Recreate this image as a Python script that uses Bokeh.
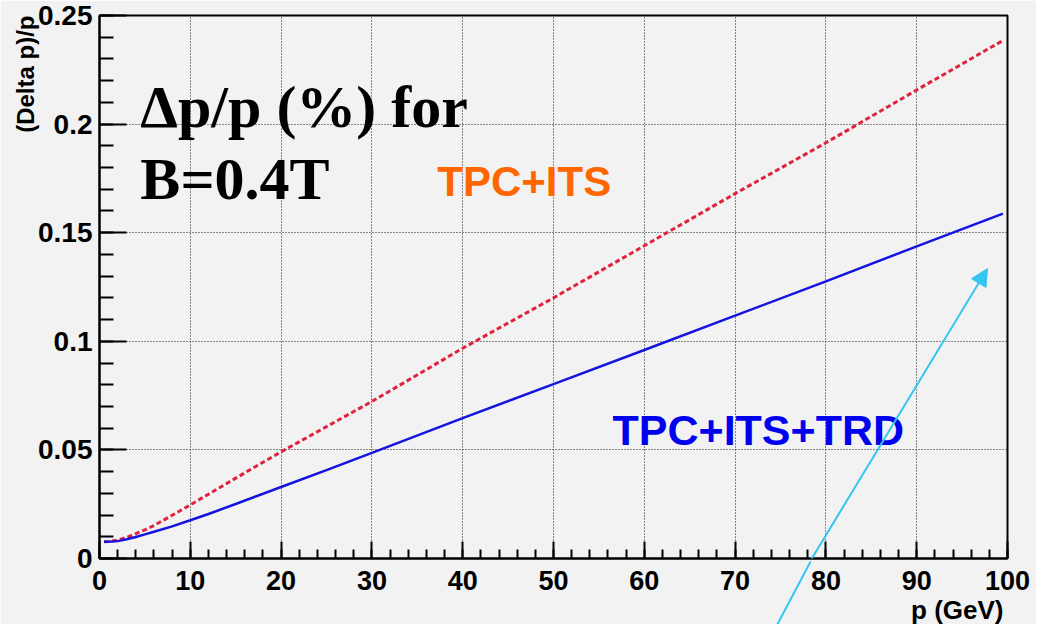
from bokeh.plotting import figure
from bokeh.layouts import column
from bokeh.models import (Label, Arrow, NormalHead, SingleIntervalTicker,
                          PrintfTickFormatter, Range1d, Title)
from bokeh.embed import file_html
from bokeh.resources import INLINE

# ---- data ----
p_gev = [0.5, 1, 2, 3, 4, 5, 6, 8, 10, 12, 15, 20, 25, 30, 40, 50, 60, 70, 80, 90, 99.5]
res_tpc_its = [0.0077, 0.0078, 0.0085, 0.0097, 0.0114, 0.0132, 0.0152, 0.0199, 0.0247,
               0.0296, 0.0370, 0.0491, 0.0607, 0.0723, 0.0968, 0.1200, 0.1440, 0.1680,
               0.1914, 0.2157, 0.2385]
res_tpc_its_trd = [0.0077, 0.0077, 0.0080, 0.0089, 0.0099, 0.0111, 0.0123, 0.0148, 0.0176,
                   0.0205, 0.0251, 0.0329, 0.0407, 0.0486, 0.0646, 0.0803, 0.0960, 0.1118,
                   0.1276, 0.1437, 0.1588]
x_title = "p (GeV)"
y_title = "(Delta p)/p"
arrow_start = (74.1, -0.03)
arrow_end = (97.8, 0.1335)

BG = "#f2f2f2"
SANS = "Liberation Sans"
SERIF = "Liberation Serif"
ARROW_C = "#33c6f2"

W, H = 1036, 624
B_LEFT, B_RIGHT, B_TOP, B_BOTTOM = 99, 29, 15, 63

p = figure(width=W, height=H, output_backend="svg", toolbar_location=None,
           x_range=Range1d(0, 100), y_range=Range1d(0, 0.25),
           min_border_left=B_LEFT, min_border_right=B_RIGHT, min_border_top=B_TOP,
           min_border_bottom=B_BOTTOM)
p.background_fill_color = BG
p.border_fill_color = BG
p.outline_line_color = "black"
p.outline_line_width = 2

p.xaxis.ticker = SingleIntervalTicker(interval=10, num_minor_ticks=5)
p.yaxis.ticker = SingleIntervalTicker(interval=0.05, num_minor_ticks=5)
p.yaxis.formatter = PrintfTickFormatter(format="%.3g")

for ax in (p.xaxis, p.yaxis):
    ax.axis_line_color = "black"
    ax.axis_line_width = 2
    ax.major_tick_line_color = "black"
    ax.major_tick_line_width = 2
    ax.minor_tick_line_color = "black"
    ax.minor_tick_line_width = 2
    ax.major_tick_out = 0
    ax.minor_tick_out = 0
    ax.major_label_text_font = SANS
    ax.major_label_text_font_style = "bold"
    ax.major_label_text_color = "black"

p.xaxis.major_tick_in = 17
p.xaxis.minor_tick_in = 9
p.yaxis.major_tick_in = 27
p.yaxis.minor_tick_in = 14
p.xaxis.major_label_text_font_size = "27px"
p.yaxis.major_label_text_font_size = "28px"
p.xaxis.major_label_standoff = 12
p.yaxis.major_label_standoff = 7

for g in (p.xgrid, p.ygrid):
    g.grid_line_color = "#1a1a1a"
    g.grid_line_width = 1
    g.grid_line_dash = "1 2"

p.line(p_gev, res_tpc_its, line_color="#e0223e", line_width=3, line_dash="5 3")
p.line(p_gev, res_tpc_its_trd, line_color="#1414e0", line_width=2.5)

# axis titles, ROOT style at the axis ends
yt = Title(text=y_title, align="right", text_font=SANS, text_font_size="24px",
           text_font_style="bold", text_color="black", standoff=0)
try:
    yt.standoff = -6
except Exception:
    pass
p.add_layout(yt, "left")
p.add_layout(Title(text=x_title, align="right", text_font=SANS, text_font_size="26px",
                   text_font_style="bold", text_color="black", standoff=0, offset=4), "below")

# texts inside the frame
p.add_layout(Label(x=4.5, y=0.2078, text="\u0394p/p (%) for", text_font=SERIF,
                   text_font_style="bold", text_font_size="60px", text_color="black",
                   text_baseline="alphabetic"))
p.add_layout(Label(x=4.5, y=0.1748, text="B=0.4T", text_font=SERIF,
                   text_font_style="bold", text_font_size="60px", text_color="black",
                   text_baseline="alphabetic"))
p.add_layout(Label(x=37.2, y=0.1734, text="TPC+ITS", text_font=SANS,
                   text_font_style="bold", text_font_size="42px", text_color="#ff6600",
                   text_baseline="alphabetic"))
p.add_layout(Label(x=56.5, y=0.0592, text="TPC+ITS+TRD", text_font=SANS,
                   text_font_style="bold", text_font_size="43px", text_color="#0000f0",
                   text_baseline="alphabetic"))

# cyan arrow
p.add_layout(Arrow(x_start=arrow_start[0], y_start=arrow_start[1],
                   x_end=arrow_end[0], y_end=arrow_end[1],
                   line_color=ARROW_C, line_width=2,
                   end=NormalHead(size=17, fill_color=ARROW_C, line_color=ARROW_C)))

# transparent strip laid over the bottom border, same scales, so the arrow's
# tail can continue below the x axis (the main plot clips it at its frame)
px_per_x = (W - B_LEFT - B_RIGHT) / 100.0
px_per_y = (H - B_TOP - B_BOTTOM) / 0.25
q = figure(width=W, height=B_BOTTOM, output_backend="svg", toolbar_location=None,
           x_range=Range1d(-B_LEFT / px_per_x, (W - B_LEFT) / px_per_x),
           y_range=Range1d(-B_BOTTOM / px_per_y, 0),
           x_axis_location=None, y_axis_location=None, min_border=0)
q.grid.visible = False
q.outline_line_color = None
q.background_fill_alpha = 0
q.border_fill_alpha = 0
q.add_layout(Arrow(x_start=arrow_start[0], y_start=arrow_start[1],
                   x_end=arrow_end[0], y_end=arrow_end[1],
                   line_color=ARROW_C, line_width=2, end=None))

overlay_ok = True
try:
    q.margin = (-B_BOTTOM, 0, 0, 0)
except Exception:
    overlay_ok = False

layout = column(p, q, spacing=0) if overlay_ok else p
open("out.html", "w").write(file_html(layout, INLINE))
